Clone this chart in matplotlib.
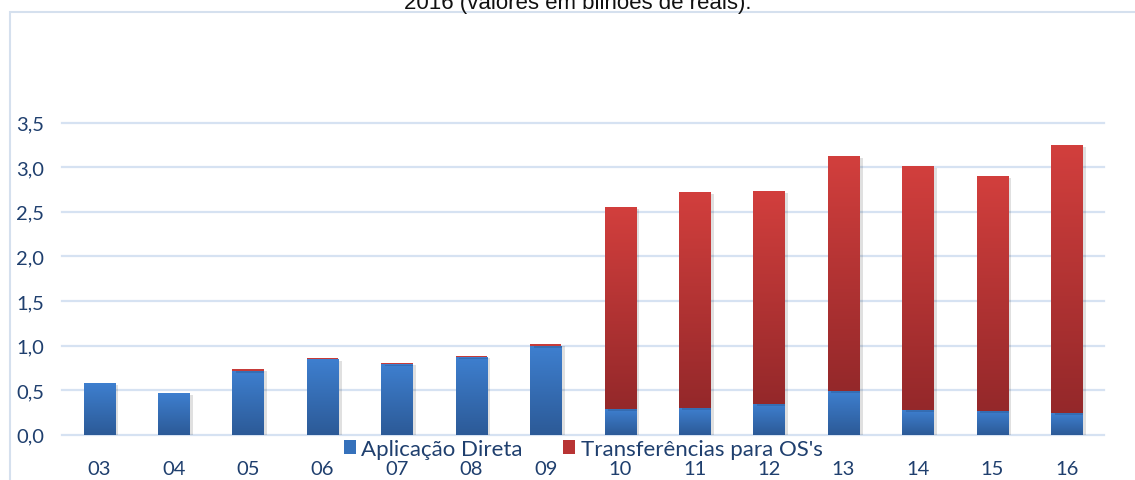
import matplotlib
matplotlib.use("Agg")
import matplotlib.pyplot as plt
import numpy as np
from matplotlib.patches import Patch, Rectangle
import matplotlib.patheffects as pe
from matplotlib.colors import LinearSegmentedColormap

years = ["03", "04", "05", "06", "07", "08", "09", "10", "11", "12", "13", "14", "15", "16"]
aplicacao_direta = [0.58, 0.47, 0.71, 0.845, 0.79, 0.867, 0.99, 0.29, 0.30, 0.345, 0.49, 0.28, 0.27, 0.245]
totals = [0.58, 0.47, 0.733, 0.855, 0.80, 0.878, 1.015, 2.55, 2.72, 2.73, 3.12, 3.01, 2.90, 3.245]
transferencias = [round(t - a, 3) for t, a in zip(totals, aplicacao_direta)]
yticks = [0.0, 0.5, 1.0, 1.5, 2.0, 2.5, 3.0, 3.5]
ytick_labels = ["0,0", "0,5", "1,0", "1,5", "2,0", "2,5", "3,0", "3,5"]
series_names = ["Aplicação Direta", "Transferências para OS's"]
title_text = "2016 (valores em bilhões de reais)."

W, H = 1135, 481
fig = plt.figure(figsize=(W / 100, H / 100), dpi=100)
fig.patch.set_facecolor("white")

# chart frame
fig.add_artist(Rectangle((9.5 / W, -0.5), 2, 1.5 - 13 / H, transform=fig.transFigure,
                         fill=False, edgecolor="#d5e0ee", lw=1.5))

ax = fig.add_axes([62 / W, 1 - 435.7 / H, (1104 - 62) / W, (435.7 - 123.5) / H])
ax.set_facecolor("none")

x = np.arange(len(years))
width = 0.42
navy = "#1f3f6e"

blue_cmap = LinearSegmentedColormap.from_list("b", ["#2c5a97", "#3e7fcf"])
red_cmap = LinearSegmentedColormap.from_list("r", ["#94282a", "#d23f3d"])

shadow = [pe.SimplePatchShadow(offset=(2.5, -1.5), shadow_rgbFace="#000000", alpha=0.12), pe.Normal()]

b1 = ax.bar(x, aplicacao_direta, width, color="#3571bb", zorder=3, linewidth=0, path_effects=shadow)
b2 = ax.bar(x, transferencias, width, bottom=aplicacao_direta, color="#c63b39", zorder=5,
            linewidth=0, path_effects=shadow)

grad = np.linspace(0, 1, 256).reshape(-1, 1)
for bars, cmap, z in ((b1, blue_cmap, 4), (b2, red_cmap, 6)):
    for p in bars:
        h = p.get_height()
        if h < 0.08:
            continue
        x0 = p.get_x(); y0 = p.get_y()
        im = ax.imshow(grad, cmap=cmap, origin="lower", aspect="auto",
                       extent=[x0, x0 + p.get_width(), y0, y0 + h], zorder=z,
                       interpolation="bilinear")
        im.set_clip_path(p)

ax.set_xlim(-0.5, len(years) - 0.5)
ax.set_ylim(0, 3.5)
ax.set_yticks(yticks)
ax.set_yticklabels(ytick_labels)
ax.set_xticks(x)
ax.set_xticklabels(years)
for s in ax.spines.values():
    s.set_visible(False)
ax.yaxis.grid(True, color="#d6e2f2", lw=1.6, zorder=0)
for gl in ax.get_ygridlines():
    gl.set_clip_on(False)
ax.set_axisbelow(True)
ax.tick_params(axis="y", length=0, pad=13, labelsize=14.5, labelcolor=navy)
ax.tick_params(axis="x", length=0, pad=18, labelsize=14.5, labelcolor=navy)
for lab in ax.get_xticklabels() + ax.get_yticklabels():
    lab.set_fontfamily("Lato")

handles = [Patch(facecolor="#3571bb", edgecolor="none"), Patch(facecolor="#b83434", edgecolor="none")]
leg = fig.legend(handles, series_names, loc="center", bbox_to_anchor=(583 / W, 1 - 450 / H),
                 ncol=2, frameon=False, handlelength=0.55, handleheight=0.55, handletextpad=0.25,
                 columnspacing=1.8, prop={"family": "Lato", "size": 16}, borderaxespad=0, borderpad=0)
for t in leg.get_texts():
    t.set_color(navy)

fig.text(578 / W, 1 - 9 / H, title_text, ha="center", va="baseline", fontsize=16,
         family="Liberation Sans", color="#111111")

fig.savefig("out.png", dpi=100, facecolor="white")
